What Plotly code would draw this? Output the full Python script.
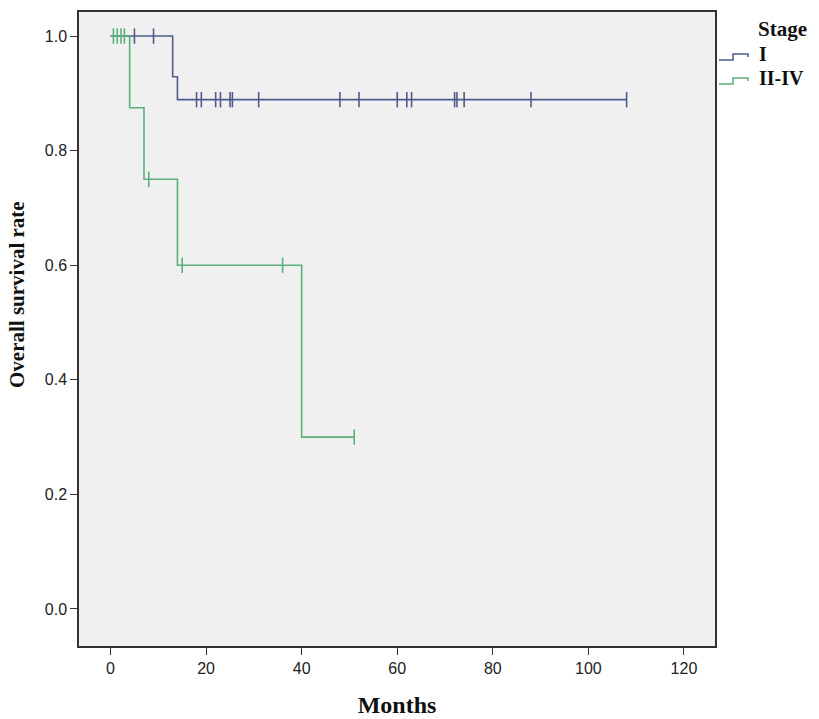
import plotly.graph_objects as go

# Kaplan-Meier steps
stage1_time = [0, 13, 14, 108]
stage1_surv = [1.0, 0.929, 0.889, 0.889]
stage1_cens_time = [5, 9, 18, 19, 22, 23, 25, 25.5, 31, 48, 52, 60, 62, 63, 72, 72.5, 74, 88, 108]
stage1_cens_surv = [1.0, 1.0] + [0.889] * 17

late_time = [0, 4, 7, 14, 40, 51]
late_surv = [1.0, 0.875, 0.75, 0.6, 0.3, 0.3]
late_cens_time = [0.6, 1.4, 2.2, 2.9, 8, 15, 36, 51]
late_cens_surv = [1.0, 1.0, 1.0, 1.0, 0.75, 0.6, 0.6, 0.3]

x_ticks = [0, 20, 40, 60, 80, 100, 120]
y_ticks = [0.0, 0.2, 0.4, 0.6, 0.8, 1.0]
groups = ['I', 'II-IV']

BLUE = '#4f5b8d'
GREEN = '#5cb07a'
SERIF = 'Liberation Serif'
SANS = 'Liberation Sans'
W, H = 819, 719
L, R, T, B = 79, 104, 12, 73


def px(x):  # page pixel -> paper x
    return (x - L) / (W - L - R)


def py(y):  # page pixel -> paper y
    return (H - B - y) / (H - T - B)


fig = go.Figure()
fig.add_trace(go.Scatter(x=stage1_time, y=stage1_surv, mode='lines', line_shape='hv',
    line=dict(color=BLUE, width=1.6), name=groups[0]))
fig.add_trace(go.Scatter(x=stage1_cens_time, y=stage1_cens_surv, mode='markers',
    marker=dict(symbol='line-ns-open', size=11, color=BLUE, line=dict(color=BLUE, width=1.6))))
fig.add_trace(go.Scatter(x=late_time, y=late_surv, mode='lines', line_shape='hv',
    line=dict(color=GREEN, width=1.6), name=groups[1]))
fig.add_trace(go.Scatter(x=late_cens_time, y=late_cens_surv, mode='markers',
    marker=dict(symbol='line-ns-open', size=11, color=GREEN, line=dict(color=GREEN, width=1.6))))

# hand-drawn legend in SPSS style (step glyphs)
def bold(size):
    return dict(family=SERIF, size=size, weight='bold', color='#111')


anns = [dict(text='Stage', x=px(757), y=py(29), xanchor='left', yanchor='middle', font=bold(21))]
shapes = []
for name, col, ylo in [(groups[0], BLUE, 60), (groups[1], GREEN, 84)]:
    anns.append(dict(text=name, x=px(758), y=py(ylo - 6), xanchor='left', yanchor='middle',
                     font=bold(20)))
    path = (f'M {px(719)},{py(ylo)} L {px(733)},{py(ylo)} L {px(733)},{py(ylo - 6)} '
            f'L {px(748)},{py(ylo - 6)} L {px(748)},{py(ylo - 3)}')
    shapes.append(dict(type='path', xref='paper', yref='paper', path=path,
                       line=dict(color=col, width=1.5)))
for a in anns:
    a.update(xref='paper', yref='paper', showarrow=False, borderpad=0)
anns.append(dict(text='Overall survival rate', x=px(17), y=py(295), xref='paper', yref='paper',
                 showarrow=False, textangle=-90, xanchor='center', yanchor='middle',
                 font=bold(21)))

fig.update_layout(
    width=W, height=H,
    paper_bgcolor='white', plot_bgcolor='#f0f0f0',
    margin=dict(l=L, r=R, t=T, b=B, autoexpand=False),
    font=dict(family=SANS, size=16, color='#222'),
    showlegend=False, annotations=anns, shapes=shapes,
)
fig.update_xaxes(range=[-6.6, 126.5], tickvals=x_ticks, ticks='outside', ticklen=7,
    tickcolor='#333', showline=True, mirror=True, linecolor='#333', linewidth=1.5,
    showgrid=False, zeroline=False, automargin=False,
    title=dict(text='Months', font=bold(24), standoff=20))
fig.update_yaxes(range=[-0.0646, 1.042], tickvals=y_ticks, tickformat='.1f', ticks='outside', ticklen=7,
    tickcolor='#333', showline=True, mirror=True, linecolor='#333', linewidth=1.5,
    showgrid=False, zeroline=False, automargin=False)

fig.write_html("out.html", config={'displayModeBar': False},
               post_script="document.body.style.margin='0';")
